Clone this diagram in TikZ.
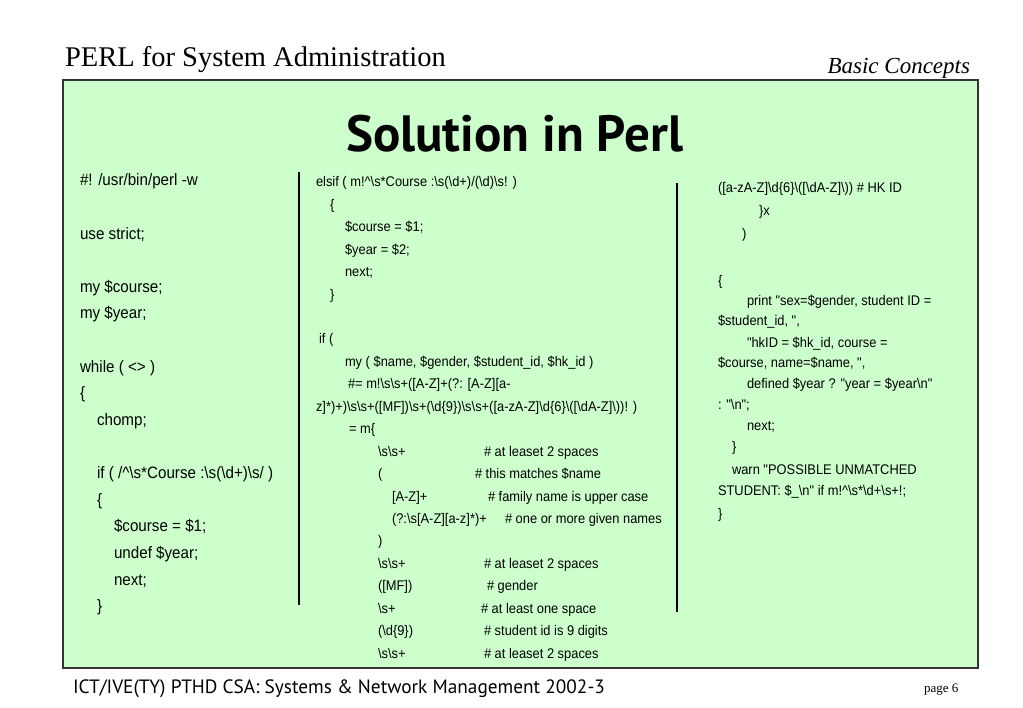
\documentclass[tikz,border=0pt]{standalone}
\usepackage{fontspec}
\setmainfont{Liberation Serif}
\newfontfamily\codefont[FakeStretch=0.92]{Liberation Sans}
\newfontfamily\titlefont{PT Sans}
\newcommand\BSL{\textbackslash}
\newcommand\CRT{\textasciicircum}
\definecolor{slidegreen}{HTML}{CCFFCC}
\definecolor{frameline}{HTML}{333333}
\tikzset{
  txt/.style={anchor=base west, inner sep=0pt, outer sep=0pt},
  codeL/.style={txt, font=\codefont\fontsize{16.5}{19}\selectfont},
  codeS/.style={txt, font=\codefont\fontsize{14}{16}\selectfont},
  sepline/.style={draw=black, line width=2pt},
  frame/.style={draw=frameline, line width=2pt, fill=slidegreen}
}
\begin{document}
\begin{tikzpicture}[x=1pt,y=-1pt]
\useasboundingbox (0,0) rectangle (1023,708);
\fill[white] (0,0) rectangle (1023,708);
% header
\node[txt, font=\fontsize{28.5}{30}\selectfont] (hdr) at (65,67) {PERL for System Administration};
\node[txt, anchor=base east, font=\itshape\fontsize{23}{25}\selectfont] (sub) at (970,74) {Basic Concepts};
% frame
\draw[frame] (63,80) rectangle (978,668);
\node[anchor=base, inner sep=0pt, font=\titlefont\bfseries\fontsize{51}{53}\selectfont] (title) at (514.5,152) {Solution in Perl};
% separators
\coordinate (s1a) at (299,172); \coordinate (s1b) at (299,605);
\coordinate (s2a) at (677,183); \coordinate (s2b) at (677,612);
\draw[sepline] (s1a) -- (s1b);
\draw[sepline] (s2a) -- (s2b);
% left column
\node[codeL] (l0) at (80,186) {\#! /usr/bin/perl -w};
\node[codeL] (l2) at (80,239.2) {use strict;};
\node[codeL] (l4) at (80,292.4) {my \$course;};
\node[codeL] (l5) at (80,319) {my \$year;};
\node[codeL] (l7) at (80,372.2) {while ( <> )};
\node[codeL] (l8) at (80,398.8) {\{};
\node[codeL] (l9) at (97,425.4) {chomp;};
\node[codeL] (l11) at (97,478.6) {if ( /\CRT\BSL s*Course :\BSL s(\BSL d+)\BSL s/ )};
\node[codeL] (l12) at (97,505.2) {\{};
\node[codeL] (l13) at (114,531.8) {\$course = \$1;};
\node[codeL] (l14) at (114,558.4) {undef \$year;};
\node[codeL] (l15) at (114,585) {next;};
\node[codeL] (l16) at (97,611.6) {\}};
% middle column
\node[codeS] (m0) at (316,187) {elsif ( m!\CRT\BSL s*Course :\BSL s(\BSL d+)/(\BSL d)\BSL s! )};
\node[codeS] (m1) at (330,209.4) {\{};
\node[codeS] (m2) at (345,231.9) {\$course = \$1;};
\node[codeS] (m3) at (345,254.3) {\$year = \$2;};
\node[codeS] (m4) at (345,276.7) {next;};
\node[codeS] (m5) at (330,299.2) {\}};
\node[codeS] (m7) at (319,344) {if (};
\node[codeS] (m8) at (345,366.4) {my ( \$name, \$gender, \$student\_id, \$hk\_id )};
\node[codeS] (m9) at (348,388.9) {\#= m!\BSL s\BSL s+([A-Z]+(?: [A-Z][a-};
\node[codeS] (m10) at (316,411.3) {z]*)+)\BSL s\BSL s+([MF])\BSL s+(\BSL d\{9\})\BSL s\BSL s+([a-zA-Z]\BSL d\{6\}\BSL ([\BSL dA-Z]\BSL ))! )};
\node[codeS] (m11) at (349,433.7) {= m\{};
\node[codeS] (m12) at (378,456.2) {\BSL s\BSL s+};
\node[codeS] (c12) at (484,456.2) {\# at leaset 2 spaces};
\node[codeS] (m13) at (378,478.6) {(};
\node[codeS] (c13) at (475,478.6) {\# this matches \$name};
\node[codeS] (m14) at (392,501) {[A-Z]+};
\node[codeS] (c14) at (488,501) {\# family name is upper case};
\node[codeS] (m15) at (392,523.5) {(?:\BSL s[A-Z][a-z]*)+};
\node[codeS] (c15) at (505,523.5) {\# one or more given names};
\node[codeS] (m16) at (378,545.9) {)};
\node[codeS] (m17) at (378,568.3) {\BSL s\BSL s+};
\node[codeS] (c17) at (484,568.3) {\# at leaset 2 spaces};
\node[codeS] (m18) at (378,590.8) {([MF])};
\node[codeS] (c18) at (487,590.8) {\# gender};
\node[codeS] (m19) at (378,613.2) {\BSL s+};
\node[codeS] (c19) at (481,613.2) {\# at least one space};
\node[codeS] (m20) at (378,635.6) {(\BSL d\{9\})};
\node[codeS] (c20) at (484,635.6) {\# student id is 9 digits};
\node[codeS] (m21) at (378,658) {\BSL s\BSL s+};
\node[codeS] (c21) at (484,658) {\# at leaset 2 spaces};
% right column
\node[codeS] (r0) at (718,193) {([a-zA-Z]\BSL d\{6\}\BSL ([\BSL dA-Z]\BSL )) \# HK ID};
\node[codeS] (r1) at (759,216) {\}x};
\node[codeS] (r2) at (742,239) {)};
\node[codeS] (r4) at (718,286) {\{};
\node[codeS] (r5) at (747,306) {print "sex=\$gender, student ID =};
\node[codeS] (r6) at (718,326) {\$student\_id, ",};
\node[codeS] (r7) at (747,348) {"hkID = \$hk\_id, course =};
\node[codeS] (r8) at (718,368) {\$course, name=\$name, ",};
\node[codeS] (r9) at (747,389) {defined \$year ? "year = \$year\BSL n"};
\node[codeS] (r10) at (718,410) {: "\BSL n";};
\node[codeS] (r11) at (747,431) {next;};
\node[codeS] (r12) at (732,452) {\}};
\node[codeS] (r13) at (732,475) {warn "POSSIBLE UNMATCHED};
\node[codeS] (r14) at (718,495) {STUDENT: \$\_\BSL n" if m!\CRT\BSL s*\BSL d+\BSL s+!;};
\node[codeS] (r15) at (718,518) {\}};
% footer
\node[txt, font=\titlefont\fontsize{19.3}{21}\selectfont] (foot) at (73,693) {ICT/IVE(TY) PTHD CSA: Systems \& Network Management 2002-3};
\node[txt, font=\fontsize{13}{15}\selectfont] (page) at (924,692) {page 6};
\end{tikzpicture}
\end{document}
